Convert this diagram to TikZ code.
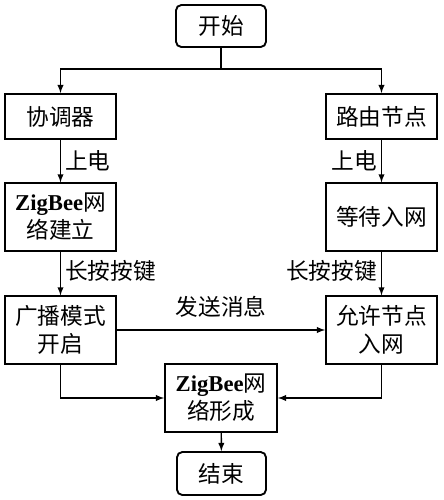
\documentclass[tikz,border=0pt]{standalone}
\usepackage{fontspec}
\setmainfont{Liberation Serif}
\newfontfamily\cjk{Noto Sans CJK SC}
\usepackage{tikz}
\usetikzlibrary{shapes,arrows}
\newcommand{\zigbee}{{\normalfont\bfseries ZigBee}}

\begin{document}
\begin{tikzpicture}[x=0.75pt,y=0.75pt,yscale=-1,xscale=1,
    every node/.style={font=\cjk\fontsize{17}{21}\selectfont},
    stepbox/.style={draw, line width=1.4pt, minimum width=83.25pt, minimum height=33.75pt, inner sep=0.75pt, align=center},
    tallbox/.style={stepbox, minimum height=50.5pt},
    termbox/.style={draw, line width=1.4pt, rounded corners=4pt, minimum width=67.5pt, minimum height=31.5pt, inner sep=0.75pt},
    flow/.style={line width=1.1pt, -latex},
    lbl/.style={inner sep=3pt}]
    %set diagram to the size of the reference
    \useasboundingbox (0,0) rectangle (443,500);

    %Shape: Rounded Rect [id:start]
    \node [termbox] (start) at (221,26) {开始};
    %Shape: Rectangle [id:coord]
    \node [stepbox] (coord) at (60.5,116.5) {协调器};
    %Shape: Rectangle [id:router]
    \node [stepbox] (router) at (381.5,116.5) {路由节点};
    %Shape: Rectangle [id:zbset]
    \node [tallbox] (zbset) at (60.5,217) {\zigbee 网\\络建立};
    %Shape: Rectangle [id:wait]
    \node [tallbox] (wait) at (381.5,217) {等待入网};
    %Shape: Rectangle [id:bcast]
    \node [tallbox] (bcast) at (60.5,330) {广播模式\\开启};
    %Shape: Rectangle [id:allow]
    \node [tallbox] (allow) at (381.5,330) {允许节点\\入网};
    %Shape: Rectangle [id:form]
    \node [tallbox, minimum width=84pt] (form) at (221,398) {\zigbee 网\\络形成};
    %Shape: Rounded Rect [id:finish]
    \node [termbox, minimum width=66.75pt, minimum height=32.25pt] (finish) at (221.5,473.5) {结束};

    %Straight Lines [id:split]
    \coordinate (split) at (221,69);
    \draw [line width=1.1pt] (start) -- (split);
    \draw [flow] (split) -| (coord);
    \draw [flow] (split) -| (router);

    %Straight Lines [id:left column]
    \draw [flow] (coord) -- node [lbl, right] {上电} (zbset);
    \draw [flow] (zbset) -- node [lbl, right, yshift=2pt] {长按按键} (bcast);
    %Straight Lines [id:right column]
    \draw [flow] (router) -- node [lbl, left] {上电} (wait);
    \draw [flow] (wait) -- node [lbl, left, yshift=2pt] {长按按键} (allow);

    %Straight Lines [id:message]
    \draw [flow] (bcast) -- node [lbl, above=6pt] {发送消息} (allow);

    %Straight Lines [id:merge]
    \draw [flow] (bcast) |- (form);
    \draw [flow] (allow) |- (form);
    \draw [flow] (form) -- (finish);

\end{tikzpicture}
\end{document}
